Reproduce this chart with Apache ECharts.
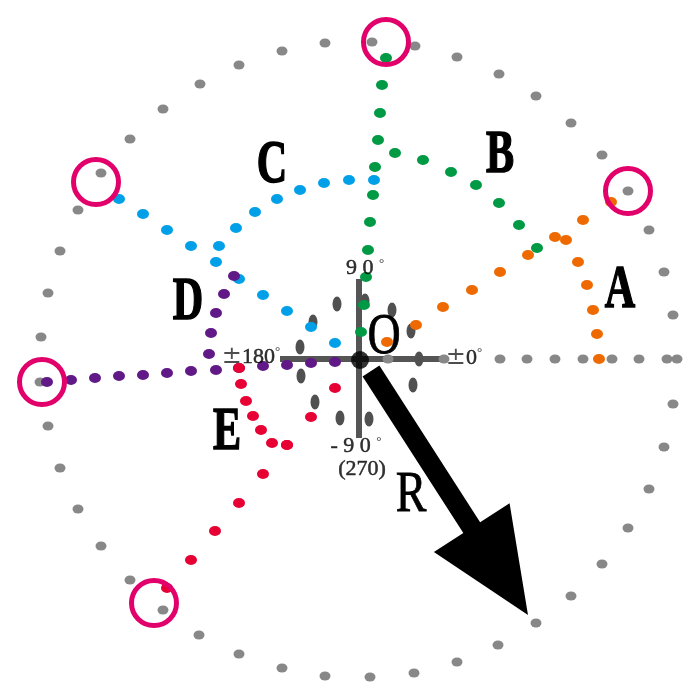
<!DOCTYPE html>
<html><head><meta charset="utf-8">
<script src="https://cdn.jsdelivr.net/npm/echarts@6/dist/echarts.min.js"></script>
<style>html,body{margin:0;padding:0;background:#fff}#c{width:700px;height:700px}</style>
</head><body><div id="c"></div>
<script>
// Coordinates: origin O at the centre, x to the right, y upward (1 unit ≈ 1 px)
const outerRing = [[13,317],[56,313],[98,302],[140,285],[177,263],[212,236],[243,204],[269,168],[290,129],[305,87],[314,44],[318,0],
  [314,-45],[305,-88],[290,-130],[269,-169],[243,-205],[212,-237],[177,-264],[139,-286],[98,-303],[55,-314],[11,-318],
  [-34,-317],[-77,-309],[-120,-295],[-160,-276],[-196,-251],[-229,-221],[-258,-187],[-281,-150],[-299,-109],[-311,-67],[-319,-23],
  [-318,22],[-311,66],[-299,108],[-281,149],[-258,186],[-229,220],[-196,250],[-159,275],[-120,294],[-77,308],[-34,316]];
const axisRow = [[29,0],[85,0],[141,0],[168,0],[196,0],[224,0],[253,0],[280,0],[308,0]];
const innerRing = [[-22,55],[6,58],[33,49],[52,28],[60,0],[54,-26],[10,-60],[-19,-59],[-44,-43],[-58,-17],[-59,12],[-46,37]];

const pathA1 = [[28,17],[57,34],[84,52],[113,69],[141,87],[169,104],[196,122],[224,139],[252,157]];
const pathA2 = [[207,119],[219,97],[228,74],[234,49],[238,25],[240,0]];
const pathB1 = [[27,301],[23,274],[21,246],[19,219],[16,192],[14,164],[11,137],[9,109],[7,82],[5,54],[2,27]];
const pathB2 = [[36,206],[64,199],[92,187],[117,174],[140,156],[160,134],[178,111]];
const pathC1 = [[-240,160],[-216,145],[-192,129],[-168,113],[-143,97],[-120,80],[-96,64],[-72,48],[-48,32],[-24,16]];
const pathC2 = [[-140,113],[-123,131],[-104,147],[-82,160],[-59,169],[-35,176],[-10,179],[15,179]];
const pathD1 = [[-312,-23],[-288,-21],[-264,-19],[-240,-17],[-216,-16],[-192,-14],[-168,-12],[-143,-11],[-120,-9],[-96,-7],[-72,-6],[-48,-4],[-24,-3]];
const pathD2 = [[-150,5],[-148,26],[-143,46],[-135,65],[-125,83]];
const pathE1 = [[-120,-9],[-118,-25],[-113,-42],[-106,-57],[-98,-71],[-87,-84],[-72,-86]];
const pathE2 = [[-24,-29],[-48,-58],[-72,-86],[-96,-115],[-120,-144],[-144,-172],[-168,-201],[-192,-229]];

const endCircles = [[27,317],[-263,177],[269,168],[-317,-23],[-205,-244]];
const crossH = [[-79,0],[86,0]];
const crossV = [[0,80],[0,-79]];
const originPt = [[1,-1]];
const arrowR = [[12,-12,169,-256]];

const letterNames = ['A','B','C','D','E'];
const letterPos = [[261,68],[141,203],[-87,193],[-171,56],[-132,-74]];
const plainNames = ['O','R'];
const plainPos = [[25,21],[52,-137]];
const tickTexts = ['9 0 °','- 9 0 °','(270)','±0°','±180°'];
const tickPos = [[6,91],[-3,-87],[3,-110],[105,1],[-108,2]];

const COL = {A:'#EE6A00',B:'#009944',C:'#00A0E9',D:'#601986',E:'#E60033'};

function dots(data, color, size, z){
  return {type:'scatter', data, symbol:'circle', symbolSize:size, itemStyle:{color, opacity:1}, z:z||3, silent:true};
}
function textSeries(names, pos, font, scaleX, stroke){
  return {type:'custom', z:10, silent:true, data: pos.map((p,i)=>[p[0],p[1],i]),
    renderItem(params, api){
      const pt = api.coord([api.value(0), api.value(1)]);
      return {type:'text', x:pt[0], y:pt[1], scaleX:scaleX,
        style:{text:names[api.value(2)], font:font, fill:'#000', stroke:'#000', lineWidth:stroke,
          align:'center', verticalAlign:'middle'}};
    }};
}
function richify(s){
  let out='';
  for (const ch of s){
    if (ch==='±') out+='{pm|±}';
    else if (ch==='°') out+='{dg|°}';
    else out+='{n|'+ch+'}';
  }
  return out;
}

const series = [
  {type:'line', data:crossH, symbol:'none', lineStyle:{color:'#555', width:6}, z:2, silent:true},
  {type:'line', data:crossV, symbol:'none', lineStyle:{color:'#555', width:6}, z:2, silent:true},
  dots(outerRing, '#888', [11,9]),
  dots(axisRow, '#888', [11,9]),
  dots(innerRing, '#505050', [9,15]),
  dots(pathA1, COL.A, [12,10]), dots(pathA2, COL.A, [12,10]),
  dots(pathB1, COL.B, [12,10]), dots(pathB2, COL.B, [12,10]),
  dots(pathC1, COL.C, [12,10]), dots(pathC2, COL.C, [12,10]),
  dots(pathD1, COL.D, [12,10]), dots(pathD2, COL.D, [12,10]),
  dots(pathE1, COL.E, [12,10]), dots(pathE2, COL.E, [12,10]),
  {type:'scatter', data:endCircles, symbol:'circle', symbolSize:45, z:5, silent:true,
    itemStyle:{color:'rgba(0,0,0,0)', borderColor:'#E2006A', borderWidth:5, opacity:1}},
  {type:'scatter', data:originPt, symbol:'circle', symbolSize:18, z:6, silent:true, itemStyle:{color:'#000'}},
  {type:'custom', z:7, silent:true, data:arrowR, encode:{x:[0,2], y:[1,3]},
    renderItem(params, api){
      const p0 = api.coord([api.value(0), api.value(1)]);
      const p1 = api.coord([api.value(2), api.value(3)]);
      const dx = p1[0]-p0[0], dy = p1[1]-p0[1], L = Math.hypot(dx,dy);
      const ux = dx/L, uy = dy/L, nx = -uy, ny = ux;
      const hw = 10, headLen = 104, headHW = 45;
      const bx = p1[0]-ux*headLen, by = p1[1]-uy*headLen;
      const pts = [
        [p0[0]+nx*hw, p0[1]+ny*hw], [bx+nx*hw, by+ny*hw], [bx+nx*headHW, by+ny*headHW],
        [p1[0], p1[1]],
        [bx-nx*headHW, by-ny*headHW], [bx-nx*hw, by-ny*hw], [p0[0]-nx*hw, p0[1]-ny*hw]];
      return {type:'polygon', shape:{points:pts}, style:{fill:'#000'}};
    }},
  textSeries(letterNames, letterPos, 'bold 62px "Liberation Serif"', 0.68, 1.6),
  textSeries(plainNames, plainPos, '56px "Liberation Serif"', 0.82, 0.8),
  {type:'scatter', data: tickPos.map((p,i)=>({value:p, name:tickTexts[i]})), symbolSize:0, z:9, silent:true,
    label:{show:true, position:'inside', formatter:(p)=>richify(p.name),
      rich:{
        n:{fontFamily:'Liberation Serif', fontSize:22, color:'#000', textBorderColor:'#000', textBorderWidth:0.5},
        pm:{fontFamily:'DejaVu Serif', fontSize:24, fontWeight:'normal', color:'#222'},
        dg:{fontFamily:'Liberation Serif', fontSize:13, color:'#000', verticalAlign:'top'}
      }}}
];

const chart = echarts.init(document.getElementById('c'), null, {renderer:'canvas'});
chart.setOption({
  animation:false,
  backgroundColor:'#fff',
  grid:{left:0, right:0, top:0, bottom:0},
  xAxis:{type:'value', min:-359, max:341, show:false},
  yAxis:{type:'value', min:-341, max:359, show:false},
  series
});
</script></body></html>
